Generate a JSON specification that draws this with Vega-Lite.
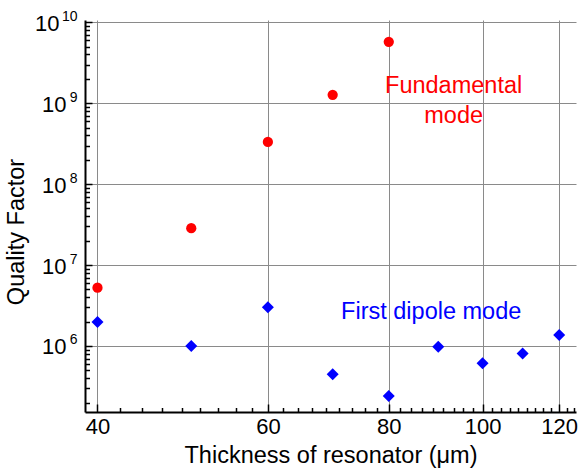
{
  "$schema": "https://vega.github.io/schema/vega-lite/v6.json",
  "width": 491,
  "height": 392,
  "autosize": "none",
  "padding": {"left": 85, "top": 20, "right": 2, "bottom": 56},
  "background": "white",
  "config": {
    "view": {"stroke": null},
    "font": "Liberation Sans",
    "axis": {
      "domainColor": "#000000",
      "domainWidth": 2,
      "tickColor": "#000000",
      "tickWidth": 1.5,
      "gridColor": "#8a8a8a",
      "gridWidth": 1,
      "labelFont": "Liberation Sans",
      "labelFontSize": 22,
      "labelColor": "#000000",
      "labelFlush": false,
      "labelOverlap": false,
      "titleFont": "Liberation Sans",
      "titleFontSize": 23.5,
      "titleFontWeight": "normal",
      "titleColor": "#000000"
    }
  },
  "datasets": {
    "fund": [
      {"thickness": 40, "q": 5.26e6},
      {"thickness": 50, "q": 2.85e7},
      {"thickness": 60, "q": 3.32e8},
      {"thickness": 70, "q": 1.27e9},
      {"thickness": 80, "q": 5.73e9}
    ],
    "dipole": [
      {"thickness": 40, "q": 1.98e6},
      {"thickness": 50, "q": 1.0e6},
      {"thickness": 60, "q": 3.0e6},
      {"thickness": 70, "q": 4.47e5},
      {"thickness": 80, "q": 2.41e5},
      {"thickness": 90, "q": 9.8e5},
      {"thickness": 100, "q": 6.1e5},
      {"thickness": 110, "q": 8.1e5},
      {"thickness": 120, "q": 1.37e6}
    ],
    "notes": [
      {"thickness": 93.35, "q": 1.34e9, "label": "Fundamental\nmode", "series": "fund"},
      {"thickness": 88.5, "q": 2.14e6, "label": "First dipole mode", "series": "dipole"}
    ]
  },
  "layer": [
    {
      "data": {"name": "fund"},
      "mark": {"type": "point", "shape": "circle", "filled": true, "size": 105, "color": "#ff0000", "opacity": 1},
      "encoding": {
        "x": {
          "field": "thickness", "type": "quantitative",
          "scale": {"type": "log", "domain": [38.83, 124.9], "nice": false, "zero": false},
          "axis": {
            "orient": "bottom",
            "values": [40, 60, 80, 100, 120],
            "grid": true,
            "tickSize": -8,
            "labelPadding": 12,
            "title": "Thickness of resonator (μm)",
            "titlePadding": 6
          }
        },
        "y": {
          "field": "q", "type": "quantitative",
          "scale": {"type": "log", "domain": [152800, 1.067e10], "nice": false, "zero": false},
          "axis": {
            "orient": "left",
            "values": [1e6, 1e7, 1e8, 1e9, 1e10],
            "grid": true,
            "tickSize": -7,
            "labelAlign": "right",
            "labelPadding": {"condition": {"test": "datum.value >= 5e9", "value": 33}, "value": 26},
            "labelOffset": 1,
            "labelExpr": "'10'",
            "title": "Quality Factor",
            "titleX": -57,
            "titleY": 211.5
          }
        }
      }
    },
    {
      "data": {"name": "dipole"},
      "mark": {"type": "point", "shape": "diamond", "filled": true, "size": 144, "color": "#0000ff", "opacity": 1},
      "encoding": {
        "x": {
          "field": "thickness", "type": "quantitative",
          "scale": {"type": "log", "domain": [38.83, 124.9], "nice": false, "zero": false},
          "axis": {
            "orient": "bottom",
            "values": [42.222, 44.444, 46.667, 48.889, 51.111, 53.333, 55.556, 57.778, 62.222, 64.444, 66.667, 68.889, 71.111, 73.333, 75.556, 77.778, 82.222, 84.444, 86.667, 88.889, 91.111, 93.333, 95.556, 97.778, 102.222, 104.444, 106.667, 108.889, 111.111, 113.333, 115.556, 117.778, 122.222, 124.444],
            "grid": false,
            "domain": false,
            "labels": false,
            "tickSize": -4.5,
            "title": null
          }
        },
        "y": {
          "field": "q", "type": "quantitative",
          "scale": {"type": "log", "domain": [152800, 1.067e10], "nice": false, "zero": false},
          "axis": {
            "orient": "left",
            "values": [2e5, 3e5, 4e5, 5e5, 6e5, 7e5, 8e5, 9e5, 2e6, 3e6, 4e6, 5e6, 6e6, 7e6, 8e6, 9e6, 2e7, 3e7, 4e7, 5e7, 6e7, 7e7, 8e7, 9e7, 2e8, 3e8, 4e8, 5e8, 6e8, 7e8, 8e8, 9e8, 2e9, 3e9, 4e9, 5e9, 6e9, 7e9, 8e9, 9e9],
            "grid": false,
            "domain": false,
            "labels": false,
            "tickSize": -4.5,
            "title": null
          }
        }
      }
    },
    {
      "data": {"name": "notes"},
      "mark": {"type": "text", "align": "center", "baseline": "alphabetic", "fontSize": 23.5, "lineHeight": 30, "lineBreak": "\n", "font": "Liberation Sans"},
      "encoding": {
        "x": {"field": "thickness", "type": "quantitative", "scale": {"type": "log", "domain": [38.83, 124.9], "nice": false, "zero": false}, "axis": null},
        "y": {
          "field": "q", "type": "quantitative",
          "scale": {"type": "log", "domain": [152800, 1.067e10], "nice": false, "zero": false},
          "axis": {
            "orient": "left",
            "values": [1e6, 1e7, 1e8, 1e9, 1e10],
            "grid": false,
            "domain": false,
            "ticks": false,
            "labelAlign": "right",
            "labelFontSize": 14,
            "labelPadding": 8,
            "labelOffset": -6,
            "labelExpr": "datum.value >= 5e9 ? '10' : datum.value >= 5e8 ? '9' : datum.value >= 5e7 ? '8' : datum.value >= 5e6 ? '7' : '6'",
            "title": null
          }
        },
        "text": {"field": "label", "type": "nominal"},
        "color": {"field": "series", "type": "nominal", "scale": {"domain": ["fund", "dipole"], "range": ["#ff0000", "#0000ff"]}, "legend": null}
      }
    }
  ],
  "resolve": {"axis": {"x": "independent", "y": "independent"}}
}
